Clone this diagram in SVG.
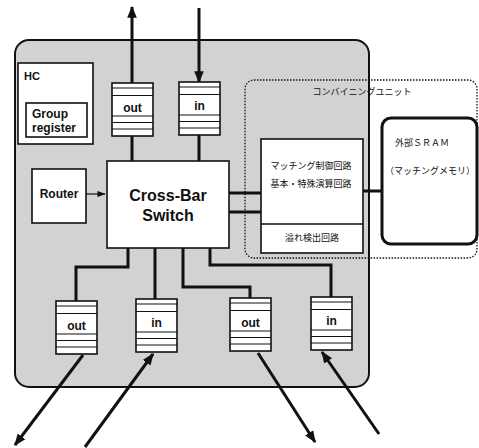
<svg xmlns="http://www.w3.org/2000/svg" width="479" height="448" viewBox="0 0 479 448">
<defs>
<style>
.lbl{font-family:"Liberation Sans",Arial,sans-serif;font-weight:bold;fill:#111}
.jp{font-family:"Noto Sans CJK JP","Noto Sans CJK SC",sans-serif;font-size:9px;fill:#111}
.box{fill:#fff;stroke:#111;stroke-width:1.6}
.stripe{stroke:#111;stroke-width:1.1}
.wire{fill:none;stroke:#111;stroke-width:3}
.arr{fill:none;stroke:#111;stroke-width:3}
</style>
<marker id="ah" viewBox="0 0 10 10" refX="9" refY="5" markerWidth="4" markerHeight="4" orient="auto" markerUnits="strokeWidth">
<path d="M0,1 L10,5 L0,9 z" fill="#111"/>
</marker>
<marker id="ahs" viewBox="0 0 10 10" refX="9" refY="5" markerWidth="7" markerHeight="7" orient="auto" markerUnits="strokeWidth">
<path d="M0,1.5 L10,5 L0,8.5 z" fill="#111"/>
</marker>
<g id="buf">
<rect class="box" x="0" y="0" width="41" height="53"/>
<line class="stripe" x1="0" y1="5" x2="41" y2="5"/>
<line class="stripe" x1="0" y1="12.5" x2="41" y2="12.5"/>
<line class="stripe" x1="0" y1="33" x2="41" y2="33"/>
<line class="stripe" x1="0" y1="39.5" x2="41" y2="39.5"/>
<line class="stripe" x1="0" y1="46" x2="41" y2="46"/>
</g>
</defs>

<g id="hc-node">
<rect x="15" y="40" width="354" height="347" rx="14" fill="#d2d2d2" stroke="#111" stroke-width="2"/>
</g>

<g id="combining-unit">
<rect x="245" y="80" width="232" height="178" rx="9" fill="none" stroke="#111" stroke-width="1.3" stroke-dasharray="1.5,1.5"/>
<text class="jp" x="362" y="95" text-anchor="middle">コンバイニングユニット</text>
</g>

<g id="connectors">
<line class="arr" x1="132" y1="83" x2="132" y2="7" marker-end="url(#ah)"/>
<line class="arr" x1="199" y1="8" x2="199" y2="82" marker-end="url(#ah)"/>
<line class="wire" x1="132" y1="136" x2="132" y2="161"/>
<line class="wire" x1="199" y1="135" x2="199" y2="161"/>
<line class="wire" x1="229" y1="193" x2="261" y2="193"/>
<line class="wire" x1="229" y1="212" x2="261" y2="212"/>
<line class="wire" x1="363" y1="191" x2="382" y2="191" stroke-width="3.5"/>
<line x1="86" y1="194" x2="105" y2="194" stroke="#111" stroke-width="1.2" marker-end="url(#ahs)"/>
<polyline class="wire" points="128,248 128,267 76,267 76,301"/>
<polyline class="wire" points="155,248 155,299"/>
<polyline class="wire" points="183,248 183,287 250,287 250,298"/>
<polyline class="wire" points="210,248 210,265 331,265 331,297"/>
<line class="arr" x1="83" y1="355" x2="15" y2="445" marker-end="url(#ah)"/>
<line class="arr" x1="85" y1="447" x2="153" y2="354" marker-end="url(#ah)"/>
<line class="arr" x1="258" y1="353" x2="315" y2="442" marker-end="url(#ah)"/>
<line class="arr" x1="379" y1="434" x2="322" y2="352" marker-end="url(#ah)"/>
</g>

<g id="hc-box">
<rect class="box" x="18" y="63" width="75" height="81"/>
<text class="lbl" x="24" y="80" font-size="11">HC</text>
<rect class="box" x="26" y="103" width="61" height="34"/>
<text class="lbl" x="32" y="118" font-size="12">Group</text>
<text class="lbl" x="32" y="132" font-size="12">register</text>
</g>

<g id="out-top">
<use href="#buf" x="112" y="83"/>
<text class="lbl" x="132.5" y="112" font-size="12" text-anchor="middle">out</text>
</g>
<g id="in-top">
<use href="#buf" x="179" y="82"/>
<text class="lbl" x="199.5" y="110" font-size="12" text-anchor="middle">in</text>
</g>

<g id="router">
<rect class="box" x="32" y="169" width="54" height="54"/>
<text class="lbl" x="59" y="198" font-size="12" text-anchor="middle">Router</text>
</g>

<g id="crossbar">
<rect class="box" x="107" y="161" width="122" height="87"/>
<text class="lbl" x="168" y="201" font-size="16" text-anchor="middle">Cross-Bar</text>
<text class="lbl" x="168" y="221" font-size="16" text-anchor="middle">Switch</text>
</g>

<g id="matching">
<rect class="box" x="261" y="139" width="102" height="114"/>
<line x1="261" y1="224" x2="363" y2="224" stroke="#111" stroke-width="1.3"/>
<text class="jp" x="311" y="169" text-anchor="middle">マッチング制御回路</text>
<text class="jp" x="311" y="187" text-anchor="middle">基本・特殊演算回路</text>
<text class="jp" x="312" y="241" text-anchor="middle">溢れ検出回路</text>
</g>

<g id="sram">
<rect x="382" y="118" width="95" height="126" rx="9" fill="#fff" stroke="#111" stroke-width="3"/>
<text class="jp" x="422" y="146" text-anchor="middle">外部ＳＲＡＭ</text>
<text class="jp" x="430" y="174" text-anchor="middle">（マッチングメモリ）</text>
</g>

<g id="out-b1">
<use href="#buf" x="56" y="301"/>
<text class="lbl" x="76.5" y="330" font-size="12" text-anchor="middle">out</text>
</g>
<g id="in-b1">
<use href="#buf" x="136" y="299"/>
<text class="lbl" x="156.5" y="327" font-size="12" text-anchor="middle">in</text>
</g>
<g id="out-b2">
<use href="#buf" x="230" y="298"/>
<text class="lbl" x="250.5" y="327" font-size="12" text-anchor="middle">out</text>
</g>
<g id="in-b2">
<use href="#buf" x="311" y="297"/>
<text class="lbl" x="331.5" y="325" font-size="12" text-anchor="middle">in</text>
</g>
</svg>
